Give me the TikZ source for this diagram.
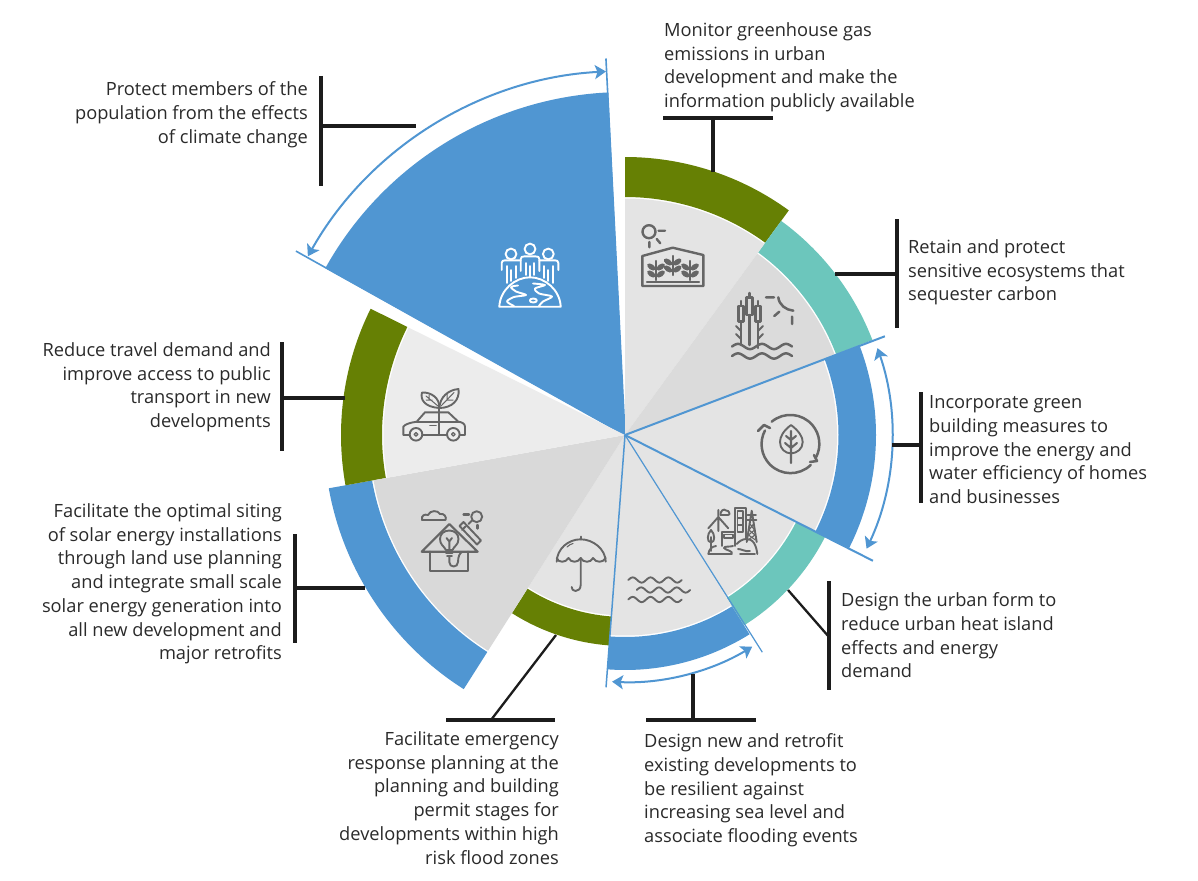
\documentclass[tikz,border=0pt]{standalone}
\usepackage{fontspec}
\setmainfont{Open Sans}
\usetikzlibrary{arrows.meta}
\definecolor{cgreen}{HTML}{668004}
\definecolor{cteal}{HTML}{6CC6BC}
\definecolor{cblue}{HTML}{5096D2}
\definecolor{gA}{HTML}{E4E4E4}
\definecolor{gB}{HTML}{DBDBDB}
\definecolor{gC}{HTML}{D9D9D9}
\definecolor{gD}{HTML}{ECECEC}
\definecolor{cicon}{HTML}{666666}
\definecolor{ctext}{HTML}{2A2A2A}
\definecolor{cconn}{HTML}{1C1C1C}
\newcommand{\wedgeS}[4]{\fill[#4] (0,0) -- (#1:#3) arc[start angle=#1,end angle=#2,radius=#3] -- cycle;}
\newcommand{\bandS}[5]{\fill[#5] (#1:#3) arc[start angle=#1,end angle=#2,radius=#3] -- (#2:#4) arc[start angle=#2,end angle=#1,radius=#4] -- cycle;}
\newcommand{\wavy}[5]{\draw[icon,domain=0:#4*360,samples=61,smooth,variable=\t] plot ({#1+\t/360*#5},{#2-2.6*sin(\t)});}
\newcommand{\plantI}[2]{%
 \draw[icon,line width=2.2] (#1,#2) -- (#1,#2+19);
 \foreach \q in {6,13}{
  \fill[cicon,rotate around={-35:(#1-4.6,#2+\q)}] (#1-4.6,#2+\q) ellipse[x radius=4.8,y radius=2.7];
  \fill[cicon,rotate around={35:(#1+4.6,#2+\q)}] (#1+4.6,#2+\q) ellipse[x radius=4.8,y radius=2.7];}
}
\tikzset{
 conn/.style={draw=cconn,line width=3.2},
 connthin/.style={draw=cconn,line width=2.3},
 icon/.style={draw=cicon,line width=1.9,line cap=round,line join=round,fill=none},
 wicon/.style={draw=white,line width=1.9,line cap=round,line join=round,fill=none},
 edge line/.style={draw=cblue,line width=1.6},
 span/.style={draw=cblue,line width=2,{Stealth[length=11,width=14,inset=2.5]}-{Stealth[length=11,width=14,inset=2.5]}},
 lab/.style={inner sep=0,text=ctext,font=\fontsize{18.25}{23.7}\selectfont},
 labL/.style={lab,align=left,anchor=north west},
 labR/.style={lab,align=right,anchor=north east},
}
\begin{document}
\begin{tikzpicture}[x=1pt,y=-1pt]
\useasboundingbox (0,0) rectangle (1198,880);
\fill[white] (0,0) rectangle (1198,880);
% pie
\begin{scope}[shift={(625,435)},y=1pt]
 \draw[edge line] (0,0) -- (92.9:377);
 \draw[edge line] (0,0) -- (150.8:377);
 \wedgeS{92.8}{150.9}{343}{cblue}
 \bandS{53.9}{90}{238}{278}{cgreen}
 \bandS{21}{53.9}{226}{265}{cteal}
 \bandS{-26.9}{21}{213.5}{251}{cblue}
 \bandS{-58}{-26.9}{192}{224.5}{cteal}
 \bandS{-94.3}{-58}{202}{235}{cblue}
 \bandS{-122.4}{-94.3}{182}{211}{cgreen}
 \bandS{-169.8}{-122.4}{257}{301}{cblue}
 \bandS{153.6}{190.2}{243}{284}{cgreen}
 \wedgeS{53.9}{90}{236.5}{gA}
 \wedgeS{21}{53.9}{224.5}{gB}
 \wedgeS{-26.9}{21}{212}{gA}
 \wedgeS{-58}{-26.9}{190.5}{gA}
 \wedgeS{-94.3}{-58}{200.5}{gA}
 \wedgeS{-122.4}{-94.3}{180.5}{gA}
 \wedgeS{-169.8}{-122.4}{255.5}{gC}
 \wedgeS{153.6}{190.2}{241.5}{gD}
 \draw[edge line,line width=2] (0,0) -- (20.8:278);
 \draw[edge line,line width=2] (0,0) -- (-26.9:278);
 \draw[edge line,line width=1.2] (0,0) -- (-57.7:257);
 \draw[edge line,line width=1.5] (0,0) -- (-94.3:253);
 \draw[span] (150.6:364) arc[start angle=150.6,end angle=93,radius=364];
 \draw[span] (-25.2:267) arc[start angle=-25.2,end angle=19,radius=267];
 \draw[span] (-93:247) arc[start angle=-93,end angle=-59,radius=247];
\end{scope}
% connectors
\coordinate (a1) at (663,118); \coordinate (a2) at (773,118); \coordinate (a3) at (713,118); \coordinate (a4) at (713,172);
\draw[conn] (a1) -- (a2); \draw[conn] (a3) -- (a4);
\coordinate (b1) at (897,219); \coordinate (b2) at (897,328); \coordinate (b3) at (835,274); \coordinate (b4) at (897,274);
\draw[conn] (b1) -- (b2); \draw[conn] (b3) -- (b4);
\coordinate (c1) at (921,392); \coordinate (c2) at (921,503); \coordinate (c3) at (892,445); \coordinate (c4) at (921,445);
\draw[conn] (c1) -- (c2); \draw[conn] (c3) -- (c4);
\coordinate (d1) at (829,581); \coordinate (d2) at (829,690); \coordinate (d3) at (788,590); \coordinate (d4) at (829,637);
\draw[conn] (d1) -- (d2); \draw[connthin] (d3) -- (d4);
\coordinate (e1) at (646,720); \coordinate (e2) at (756,720); \coordinate (e3) at (693,674); \coordinate (e4) at (693,720);
\draw[conn] (e1) -- (e2); \draw[conn] (e3) -- (e4);
\coordinate (f1) at (446,720); \coordinate (f2) at (555,720); \coordinate (f3) at (556,635); \coordinate (f4) at (491,720);
\draw[conn] (f1) -- (f2); \draw[connthin] (f3) -- (f4);
\coordinate (g1) at (295,534); \coordinate (g2) at (295,643); \coordinate (g3) at (295,588); \coordinate (g4) at (365,588);
\draw[conn] (g1) -- (g2); \draw[conn] (g3) -- (g4);
\coordinate (h1) at (282,342); \coordinate (h2) at (282,451); \coordinate (h3) at (282,398); \coordinate (h4) at (345,398);
\draw[conn] (h1) -- (h2); \draw[conn] (h3) -- (h4);
\coordinate (i1) at (321,76); \coordinate (i2) at (321,186); \coordinate (i3) at (321,126); \coordinate (i4) at (416,126);
\draw[conn] (i1) -- (i2); \draw[conn] (i3) -- (i4);
% labels
\node[labR] (t1) at (308,81.5) {Protect members of the\\population from the effects\\of climate change};
\node[labL] (t2) at (664,22.5) {Monitor greenhouse gas\\emissions in urban\\development and make the\\information publicly available};
\node[labL] (t3) at (908,239.5) {Retain and protect\\sensitive ecosystems that\\sequester carbon};
\node[labL] (t4) at (929,395.5) {Incorporate green\\building measures to\\improve the energy and\\water efficiency of homes\\and businesses};
\node[labL] (t5) at (841,592.5) {Design the urban form to\\reduce urban heat island\\effects and energy\\demand};
\node[labL] (t6) at (644,733.5) {Design new and retrofit\\existing developments to\\be resilient against\\increasing sea level and\\associate flooding events};
\node[labR] (t7) at (559,731.5) {Facilitate emergency\\response planning at the\\planning and building\\permit stages for\\developments within high\\risk flood zones};
\node[labR] (t8) at (282,503.5) {Facilitate the optimal siting\\of solar energy installations\\through land use planning\\and integrate small scale\\solar energy generation into\\all new development and\\major retrofits};
\node[labR] (t9) at (271,342.5) {Reduce travel demand and\\improve access to public\\transport in new\\developments};
% icon: people on globe
\draw[wicon] (530,249) circle[radius=5.4] (511,254) circle[radius=5.4] (548.3,254) circle[radius=5.4];
\draw[wicon] (520.7,271) -- (520.7,259) .. controls (520.7,257) and (522,256.3) .. (525,256.3) -- (535,256.3) .. controls (538,256.3) and (539.3,257) .. (539.3,259) -- (539.3,271);
\draw[wicon] (525.7,263) -- (525.7,275) (534.3,263) -- (534.3,275) (530,266) -- (530,277);
\draw[wicon] (501.7,270) -- (501.7,263) .. controls (501.7,261) and (503,260.3) .. (505,260.3) -- (520.7,260.3);
\draw[wicon] (506.7,266) -- (506.7,283) (511,270) -- (511,281) (516,266) -- (516,278);
\draw[wicon] (558.3,270) -- (558.3,263) .. controls (558.3,261) and (557,260.3) .. (555,260.3) -- (539.3,260.3);
\draw[wicon] (553.3,266) -- (553.3,283) (548.3,270) -- (548.3,281) (544,266) -- (544,278);
\draw[wicon] (499.3,306.7) .. controls (500,290) and (515,277.3) .. (530,277.3) .. controls (545,277.3) and (560,290) .. (560.7,306.7) -- cycle;
\draw[wicon] plot[smooth] coordinates {(518,285.5) (511,287) (516,291.5) (526,295) (514,297) (507,301.5) (514,306)};
\draw[wicon] plot[smooth] coordinates {(533,283.5) (545,285) (535,288.5) (539,293.5) (552,296.5) (543,301.5) (539,306)};
\draw[wicon] (533.3,300.5) ellipse[x radius=3.5,y radius=2];
% icon: greenhouse
\draw[icon,line width=2.4] (649,231.7) circle[radius=6.5];
\draw[icon,line width=2.4] (658.5,230.7) -- (665,230.7) (656.7,239) -- (660.3,243.3) (649.3,242) -- (649.3,247.3);
\draw[icon,line width=2.4] (642.3,256) -- (672.7,247.7) -- (703.3,255) -- (703.3,286) -- (642.3,286) -- cycle;
\plantI{656}{261}\plantI{672.7}{256}\plantI{690}{261}
\draw[icon,line width=2.4] (647,282) -- (699,282);
% icon: reeds
\begin{scope}[icon/.append style={line width=2.5}]
\draw[icon] (738.5,306) rectangle (743.5,321.5);
\draw[icon] (746.7,297.5) rectangle (752.3,315);
\draw[icon] (755.5,306) rectangle (760.7,321.5);
\draw[icon] (741,301) -- (741,306) (741,321.5) -- (741,345) (749.5,293) -- (749.5,297.5) (749.5,315) -- (749.5,345) (758,301) -- (758,306) (758,321.5) -- (758,348);
\draw[icon,line width=1.8] (736,326) -- (741,331) (736,334) -- (741,339) (763,326) -- (758,331) (763,334) -- (758,339);
\wavy{732}{346.5}{60}{2.5}{24}
\wavy{732}{356}{60}{2.5}{24}
\draw[icon] (778.3,297.3) .. controls (779,305) and (786,310) .. (793.3,310.7);
\draw[icon] (766,297.3) -- (774,297.3) (774.3,316) -- (779.3,311.7) (792,316.7) -- (792,324);
\end{scope}
% icon: leaf in arrows
\draw[icon,line width=2.5] (771.7,421.7) arc[start angle=-130,end angle=27,radius=29];
\draw[icon,line width=2.5] (810.7,465) arc[start angle=46,end angle=208,radius=29];
\draw[icon,line width=2.5] (814,455) -- (817,461) -- (810,462);
\draw[icon,line width=2.5] (758,431) -- (764,425) -- (770,428);
\draw[icon] (791,425) .. controls (783,431) and (780,437) .. (780,442) .. controls (780,449) and (785,453) .. (791,453.5) .. controls (797,453) and (802.7,449) .. (802.7,442) .. controls (802.7,437) and (799,431) .. (791,425) -- cycle;
\draw[icon,line width=2.1] (791,431) -- (791,463) (791,440) -- (796,436) (791,440) -- (786,436) (791,448) -- (797,443) (791,448) -- (785,443);
% icon: city
\draw[icon] (735,535) -- (735,507.7) -- (745.7,507.7) -- (745.7,538);
\draw[icon,line width=1.4] (737.5,511) rectangle (743,532) (737.5,518) -- (743,518) (737.5,525) -- (743,525);
\draw[icon] (751.7,510.7) -- (746.7,542) (751.7,510.7) -- (756.7,542) (747.5,515) -- (756,515) (747,520) -- (756.5,520);
\draw[icon,line width=1.1] (750,524) -- (754.5,530) -- (748.5,535) -- (755.5,540) (753.5,524) -- (749,530) -- (755,535) -- (748,540);
\draw[icon] (718.3,510) -- (718.3,531) (718.3,517) -- (708.3,528.3) (718.3,517) -- (728.3,528.3);
\draw[icon] (720.5,515) .. controls (720,511) and (724,508) .. (726,510.5) .. controls (729,510) and (731,515) .. (728,515) -- (720.5,515);
\draw[icon] (721.7,546) -- (721.7,531.7) -- (735,531.7) -- (735,546) (724,534.5) rectangle (733,538);
\draw[icon] (711,530) .. controls (707,534) and (706.5,542) .. (711,542.5) .. controls (715.5,542) and (715,534) .. (711,530) (711,537) -- (711,551);
\draw[icon] (708.3,554) -- (731.7,554) .. controls (734,551) and (725,550) .. (724,548) .. controls (724,546) and (730,547) .. (733,546) (708.3,554) .. controls (709,549) and (712,546.5) .. (716,546);
\draw[icon] (736.7,544) .. controls (742,538) and (750,537) .. (754,543) .. controls (756,546) and (757,551) .. (757.3,554) (738,549) .. controls (742,549) and (745,552) .. (750,551) (740,554) -- (755,554);
% icon: waves
\wavy{628.3}{580}{60}{3}{17.8}
\wavy{636.7}{590}{60}{3}{17.8}
\wavy{628.3}{599.5}{60}{3}{17.8}
% icon: umbrella
\draw[icon] (580.7,536.5) -- (580.7,539.3);
\draw[icon] (556.7,561.7) .. controls (557,549) and (568,539.3) .. (580.7,539.3) .. controls (593,539.3) and (605.5,549) .. (605.7,561.7);
\draw[icon] (556.7,558) .. controls (558,563) and (566,563) .. (568.5,558) .. controls (571,563) and (578,563) .. (580.7,558) .. controls (583,563) and (591,563) .. (593,558) .. controls (596,563) and (603,563) .. (605.7,558);
\draw[icon] (580.7,558) -- (580.7,585) .. controls (580.7,589) and (578,591) .. (575.5,591) .. controls (573,591) and (571.7,589) .. (571.7,587);
\draw[icon,line width=1.1] (567,547) .. controls (569,545) and (571,544) .. (573,543.5);
% icon: house with bulb
\draw[icon] (422,520) .. controls (421,515) and (425,514) .. (428,515) .. controls (430,510) and (438,510) .. (440,514) .. controls (444,513) and (447,517) .. (445.5,520) -- cycle;
\draw[icon] (476.7,516.7) circle[radius=5.5];
\draw[icon,line width=2.4] (463.5,514.5) -- (469,514.5) (477.5,525) -- (477.5,528.5);
\draw[icon] (468.5,524) -- (472,520.5);
\draw[icon,line width=2.1] (421.7,551.7) -- (449.3,524) -- (477.7,551.7) -- cycle;
\draw[icon,line width=2.1] (430,551.7) -- (430,570.7) -- (468.3,570.7) -- (468.3,551.7);
\draw[icon] (459.5,526) -- (463.5,522) -- (481,540.5) -- (477,544.5) -- cycle (462,530) -- (465.5,526.5);
\draw[icon] (446,550) .. controls (444,546) and (440,545) .. (440,539) .. controls (440,534) and (444,530.5) .. (449.3,530.5) .. controls (454.5,530.5) and (458.5,534) .. (458.5,539) .. controls (458.5,545) and (454,546) .. (452.5,550) -- cycle;
\draw[icon] (446,553) -- (452.5,553) (447,556) -- (452,556) (446.5,538) -- (449.3,541.5) -- (452,538) (449.3,541.5) -- (449.3,550);
\draw[icon] (449.3,556) -- (449.3,562) .. controls (449.3,568) and (458,568) .. (458,562) .. controls (458,556) and (460,553) .. (462,552);
% icon: car and leaves
\draw[icon] (409.5,435) -- (403.3,435) -- (403.3,426.7) .. controls (405,424) and (411,422.5) .. (416.7,421.7) -- (425,412.3) -- (448.3,412.3) -- (458.3,421.7) .. controls (462,422) and (465,424) .. (465,426.7) -- (465,435) -- (460,435);
\draw[icon] (422.5,435) -- (446.5,435) (416.7,421.7) -- (458.3,421.7) (439.3,412.3) -- (439.3,435) (430,425.5) -- (436,425.5);
\draw[icon] (416,434.3) circle[radius=6.3] (453.3,434.3) circle[radius=6.3];
\draw[icon,line width=1.3] (416,434.3) circle[radius=1.8] (453.3,434.3) circle[radius=1.8];
\draw[icon] (439.3,412.3) -- (439.3,405);
\draw[icon] (439.3,408) .. controls (425,407) and (420,400) .. (422,392.5) .. controls (431,392) and (440,398) .. (439.3,408) -- cycle;
\draw[icon] (439.3,408) .. controls (440,397) and (448,390) .. (458.5,389) .. controls (460,400) and (452,408) .. (439.3,408) -- cycle;
\draw[icon,line width=1] (426,396) -- (438,406) (429,395) -- (429,400) (426,400) -- (432,400) (441,406) -- (454,392.5) (447,394) -- (447,400) (447,400) -- (453,400);
\end{tikzpicture}
\end{document}
